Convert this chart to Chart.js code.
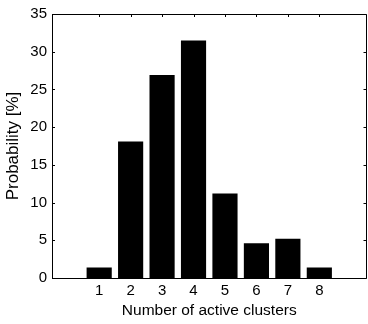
<!DOCTYPE html>
<html>
<head>
<meta charset="utf-8">
<script src="https://cdn.jsdelivr.net/npm/chart.js@4"></script>
<style>
  html, body { margin: 0; padding: 0; background: #fff; }
  #wrap { width: 368px; height: 324px; }
</style>
</head>
<body>
<div id="wrap"><canvas id="clusterChart" width="368" height="324"></canvas></div>
<script>
// number of active clusters and how often each occurs (%)
const clusterCounts = [1, 2, 3, 4, 5, 6, 7, 8];
const probabilities = [1.4, 18.1, 26.9, 31.5, 11.2, 4.6, 5.2, 1.4];
const yTicks = [0, 5, 10, 15, 20, 25, 30, 35];

const FONT = '"Liberation Sans", Arial, Helvetica, sans-serif';

// matlab-like box around the axes with short inward ticks on every side
const boxTicks = {
    id: 'boxTicks',
    afterDraw(chart) {
        const { ctx, chartArea: a, scales: { x, y } } = chart;
        const len = 3;
        ctx.save();
        ctx.strokeStyle = '#000';
        ctx.lineWidth = 1;
        ctx.beginPath();
        ctx.rect(Math.round(a.left) + 0.5, Math.round(a.top) + 0.5,
                 Math.round(a.right - a.left) - 1, Math.round(a.bottom - a.top));
        clusterCounts.forEach(c => {
            const px = Math.round(x.getPixelForValue(c)) + 0.5;
            ctx.moveTo(px, a.bottom); ctx.lineTo(px, a.bottom - len);
            ctx.moveTo(px, a.top); ctx.lineTo(px, a.top + len);
        });
        yTicks.forEach(v => {
            const py = Math.round(y.getPixelForValue(v)) + 0.5;
            ctx.moveTo(a.left, py); ctx.lineTo(a.left + len, py);
            ctx.moveTo(a.right, py); ctx.lineTo(a.right - len, py);
        });
        ctx.stroke();
        ctx.restore();
    }
};

new Chart(document.getElementById('clusterChart'), {
    type: 'bar',
    data: {
        datasets: [{
            data: clusterCounts.map((c, i) => ({ x: c, y: probabilities[i] })),
            backgroundColor: '#000',
            borderWidth: 0,
            barPercentage: 0.8,
            categoryPercentage: 1.0
        }]
    },
    options: {
        responsive: false,
        animation: false,
        layout: { padding: { top: 14, right: 1.5, left: 0, bottom: 0 } },
        plugins: { legend: { display: false }, tooltip: { enabled: false } },
        scales: {
            x: {
                type: 'linear',
                min: 0,
                max: 9,
                grid: { display: false, drawTicks: false },
                border: { display: false },
                ticks: {
                    stepSize: 1,
                    padding: 4,
                    color: '#000',
                    font: { family: FONT, size: 15 },
                    callback: v => clusterCounts.includes(v) ? String(v) : ''
                },
                title: {
                    display: true,
                    text: 'Number of active clusters',
                    color: '#000',
                    font: { family: FONT, size: 15.5 },
                    padding: { top: 0, bottom: 4 }
                },
                afterFit(scale) {
                    scale.height = 46;
                    scale.paddingLeft = 0;
                    scale.paddingRight = 0;
                }
            },
            y: {
                min: 0,
                max: 35,
                grid: { display: false, drawTicks: false },
                border: { display: false },
                ticks: {
                    stepSize: 5,
                    padding: 5,
                    color: '#000',
                    font: { family: FONT, size: 15 }
                },
                title: {
                    display: true,
                    text: 'Probability [%]',
                    color: '#000',
                    font: { family: FONT, size: 17 },
                    padding: { top: 3, bottom: 0 }
                },
                afterFit(scale) {
                    scale.width = 52;
                    scale.paddingTop = 0;
                    scale.paddingBottom = 0;
                }
            }
        }
    },
    plugins: [boxTicks]
});
</script>
</body>
</html>
